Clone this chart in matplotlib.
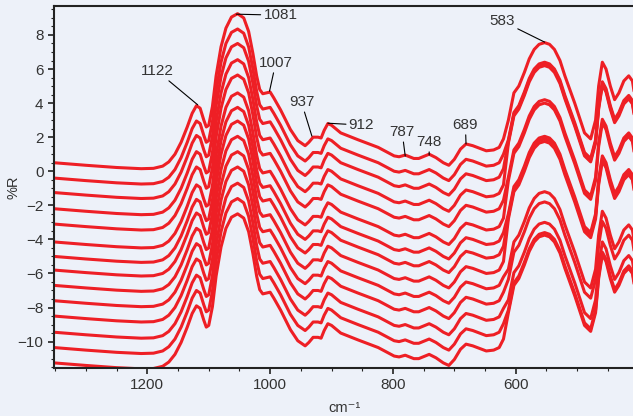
import matplotlib
matplotlib.use("Agg")
import matplotlib.pyplot as plt
from matplotlib.ticker import MultipleLocator
import numpy as np

plt.rcParams['font.family'] = ['Liberation Sans', 'DejaVu Sans']

# wavenumbers (cm-1) and the top spectrum
wavenumber = [1352, 1300, 1250, 1210, 1190, 1175, 1165, 1155, 1145, 1135, 1127,
              1120, 1114, 1108, 1104, 1100, 1094, 1088, 1080, 1072, 1063, 1053,
              1043, 1035, 1028, 1022, 1017, 1012, 1006, 1000, 994, 983, 967, 955,
              943, 937, 930, 922, 917, 912, 906, 900, 885, 857, 824, 798, 790,
              780, 766, 758, 741, 730, 718, 709, 700, 690, 681, 670, 648, 636,
              627, 620, 612, 603, 595, 586, 578, 570, 562, 553, 545, 537, 528,
              520, 504, 488, 478, 470, 465, 459, 453, 446, 439, 432, 424, 416,
              410, 407]
top_spectrum = [0.50, 0.35, 0.22, 0.15, 0.17, 0.30, 0.55, 1.0, 1.7, 2.6, 3.4,
                3.85, 3.7, 3.0, 2.6, 2.7, 3.8, 5.6, 7.3, 8.4, 9.05, 9.25,
                9.0, 8.2, 6.9, 5.6, 4.8, 4.55, 4.6, 4.65, 4.3, 3.6, 2.45, 1.8,
                1.5, 1.7, 2.0, 2.0, 1.95, 2.4, 2.8, 2.7, 2.25, 1.85, 1.4, 0.9, 0.85,
                0.95, 0.75, 0.75, 1.0, 0.8, 0.5, 0.35, 0.7, 1.3, 1.6, 1.5, 1.2, 1.25,
                1.4, 1.9, 3.0, 4.6, 5.0, 5.8, 6.6, 7.15, 7.45, 7.55, 7.45, 7.15, 6.5,
                5.6, 4.0, 2.25, 1.9, 3.0, 5.0, 6.4, 6.0, 5.0, 4.2, 4.6, 5.3, 5.6,
                5.3, 4.6]

# vertical shift of each stacked spectrum, above and below ~616 cm-1
offset_high = [0, -0.9, -1.75, -2.7, -3.6, -4.65, -5.5, -6.3, -7.2, -8.1,
               -9.0, -9.95, -10.85, -11.75]
offset_low = [0, -1.15, -1.25, -1.35, -3.35, -3.55, -5.5, -5.65, -5.8, -8.75,
              -9.35, -10.55, -11.15, -11.3]
split_wn = 616

peak_labels = ["1122", "1081", "1007", "937", "912", "787", "748", "689", "583"]
peak_wn = [1118, 1055, 1001, 932, 906, 780, 741, 681, 553]
peak_val = [3.9, 9.22, 4.7, 2.06, 2.82, 0.89, 0.95, 1.6, 7.58]
label_wn = [1184, 1011, 991, 949, 872, 785, 741, 682, 622]
label_val = [5.88, 9.16, 6.35, 4.05, 2.71, 2.29, 1.71, 2.71, 8.81]
label_ha = ["center", "left", "center", "center", "left", "center", "center",
            "center", "center"]

bg = "#edf1f9"
txt = "#333333"
fig = plt.figure(figsize=(6.33, 4.16), dpi=100, facecolor=bg)
ax = fig.add_axes([54 / 633, 1 - 368 / 416, 1 - 54 / 633 + 0.002, (368 - 6) / 416])
ax.set_facecolor(bg)

wn = np.array(wavenumber)
base = np.array(top_spectrum)
for hi, lo in zip(offset_high, offset_low):
    shift = np.where(wn > split_wn, hi, lo)
    ax.plot(wn, base + shift, color="#ee1f25", lw=2.2, solid_joinstyle="round",
            solid_capstyle="round")

for lab, x, y, tx, ty, ha in zip(peak_labels, peak_wn, peak_val, label_wn,
                                 label_val, label_ha):
    ax.annotate(lab, xy=(x, y), xytext=(tx, ty), ha=ha, va="center",
                fontsize=11, color=txt,
                arrowprops=dict(arrowstyle="-", lw=0.8, color="black",
                                shrinkA=0, shrinkB=0))

ax.set_xlim(1352, 407)
ax.set_ylim(-11.55, 9.7)
ax.xaxis.set_major_locator(MultipleLocator(200))
ax.xaxis.set_minor_locator(MultipleLocator(50))
ax.yaxis.set_major_locator(MultipleLocator(2))
ax.yaxis.set_minor_locator(MultipleLocator(0.5))
ax.tick_params(which="major", length=4, width=1.2, colors="#222222",
               labelsize=11, labelcolor=txt)
ax.tick_params(which="minor", length=2.5, width=0.8, colors="#222222")
ax.spines["right"].set_visible(False)
for side in ["left", "bottom", "top"]:
    ax.spines[side].set_linewidth(1.5)
    ax.spines[side].set_color("#222222")

ax.set_xlabel("cm⁻¹", fontsize=10.5, color=txt, labelpad=6)
ax.set_ylabel("%R", fontsize=10.5, color=txt, va="center")
ax.yaxis.set_label_coords(-0.069, 0.5)

fig.savefig("out.png", dpi=100, facecolor=bg)
